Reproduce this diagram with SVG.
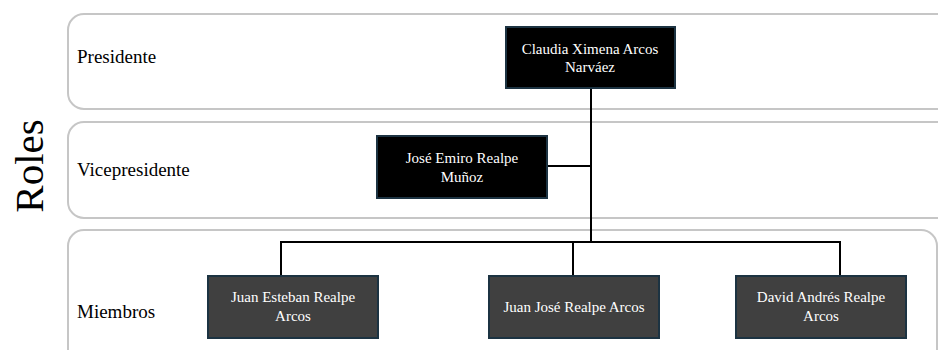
<svg xmlns="http://www.w3.org/2000/svg" width="938" height="350" viewBox="0 0 938 350">
  <style>
    .lane { fill: #ffffff; stroke: #c6c6c6; stroke-width: 2; }
    .lane-label { font-family: "Liberation Serif", "Times New Roman", serif; font-size: 19px; fill: #000000; }
    .title { font-family: "Liberation Serif", "Times New Roman", serif; font-size: 41px; fill: #000000; }
    .box-lead { fill: #000000; stroke: #1c3342; stroke-width: 2; }
    .box-member { fill: #404040; stroke: #1c3342; stroke-width: 2; }
    .name { font-family: "Liberation Serif", "Times New Roman", serif; font-size: 15px; fill: #ffffff; text-anchor: middle; }
    .link { fill: none; stroke: #000000; stroke-width: 2; }
  </style>

  <rect width="938" height="350" fill="#ffffff"/>

  <!-- swim lanes -->
  <g id="lanes">
    <rect class="lane" x="68" y="14" width="900" height="95" rx="16"/>
    <rect class="lane" x="68" y="122" width="900" height="96" rx="16"/>
    <rect class="lane" x="68" y="230" width="869" height="140" rx="16"/>
    <text class="lane-label" x="77" y="63">Presidente</text>
    <text class="lane-label" x="77" y="176">Vicepresidente</text>
    <text class="lane-label" x="77" y="318">Miembros</text>
  </g>

  <text class="title" transform="translate(43,166) rotate(-90)" text-anchor="middle">Roles</text>

  <!-- connectors -->
  <g id="connectors">
    <path class="link" d="M591 88 V242"/>
    <path class="link" d="M547 166 H591"/>
    <path class="link" d="M281 276 V242 H840 V276"/>
    <path class="link" d="M573 242 V276"/>
  </g>

  <g id="president">
    <rect class="box-lead" x="506" y="27" width="169" height="61"/>
    <text class="name" x="590" y="54">Claudia Ximena Arcos</text>
    <text class="name" x="590" y="72">Narváez</text>
  </g>

  <g id="vicepresident">
    <rect class="box-lead" x="377" y="136" width="170" height="62"/>
    <text class="name" x="462" y="163">José Emiro Realpe</text>
    <text class="name" x="462" y="182">Muñoz</text>
  </g>

  <g id="member-juan-esteban">
    <rect class="box-member" x="208" y="276" width="170" height="62"/>
    <text class="name" x="293" y="302">Juan Esteban Realpe</text>
    <text class="name" x="293" y="321">Arcos</text>
  </g>

  <g id="member-juan-jose">
    <rect class="box-member" x="489" y="276" width="170" height="62"/>
    <text class="name" x="574" y="312">Juan José Realpe Arcos</text>
  </g>

  <g id="member-david">
    <rect class="box-member" x="736" y="276" width="170" height="62"/>
    <text class="name" x="821" y="302">David Andrés Realpe</text>
    <text class="name" x="821" y="321">Arcos</text>
  </g>
</svg>
